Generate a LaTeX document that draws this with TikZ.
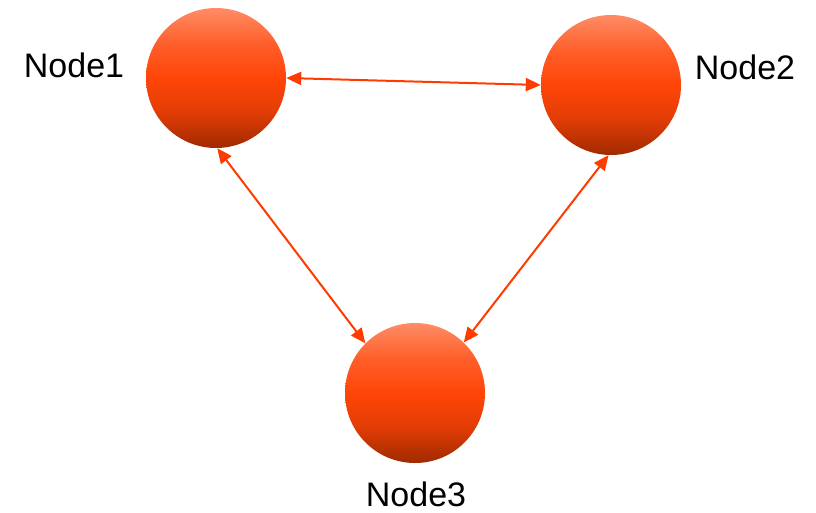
\documentclass[tikz,border=0pt]{standalone}
\usepackage{fontspec}
\setmainfont{Liberation Sans}
\usetikzlibrary{arrows.meta}
\definecolor{ballmid}{HTML}{FF4508}
\definecolor{balltop}{HTML}{FF8C66}
\definecolor{ballbot}{HTML}{A02A00}
\definecolor{linkcol}{HTML}{FF3C00}
\pgfdeclareverticalshading{ballshade}{100bp}{color(0bp)=(ballbot); color(25bp)=(ballbot);
  color(38bp)=(ballmid!70!ballbot); color(50bp)=(ballmid); color(62bp)=(ballmid!65!balltop);
  color(75bp)=(balltop); color(100bp)=(balltop)}
\begin{document}
\begin{tikzpicture}[x=1pt,y=-1pt,
  ball/.style={circle,minimum size=140pt,inner sep=0pt,shading=ballshade},
  lbl/.style={anchor=base,font=\fontsize{34}{40}\selectfont},
  edge/.style={{Triangle[length=15pt,width=13pt]}-{Triangle[length=15pt,width=13pt]},linkcol,line width=2pt}]
\useasboundingbox (0,0) rectangle (816,512);
\node[ball] (n1) at (216,78) {};
\node[ball] (n2) at (611,85) {};
\node[ball] (n3) at (415,393) {};
\node[lbl] (l1) at (74,77) {Node1};
\node[lbl] (l2) at (745,79) {Node2};
\node[lbl] (l3) at (416,506) {Node3};
\draw[edge] (n1.east) -- (n2.west);
\draw[edge] (n1.-89) -- (n3.135);
\draw[edge] (n2.-92) -- (n3.46);
\end{tikzpicture}
\end{document}
